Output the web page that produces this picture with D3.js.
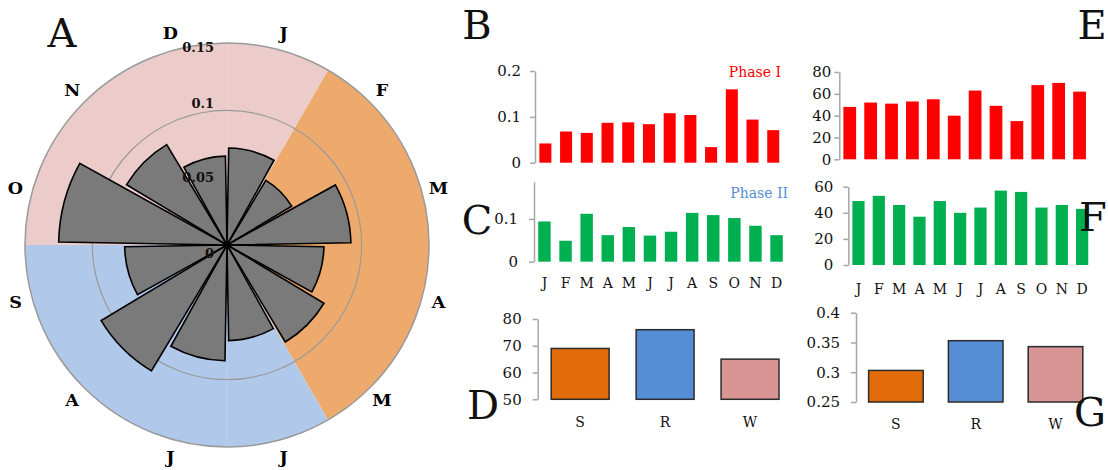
<!DOCTYPE html>
<html>
<head>
<meta charset="utf-8">
<script src="https://cdn.jsdelivr.net/npm/d3@7"></script>
<style>
  html, body { margin: 0; padding: 0; background: #fff; }
  svg { display: block; }
  text { font-family: "DejaVu Serif", "Liberation Serif", serif; }
</style>
</head>
<body>
<svg id="chart" width="1108" height="470"></svg>
<script>
// ---------- DATA ----------
const months = ["J", "F", "M", "A", "M", "J", "J", "A", "S", "O", "N", "D"];
const polarValues = [0.072, 0.056, 0.092, 0.072, 0.084, 0.071, 0.086, 0.109, 0.076, 0.125, 0.087, 0.066];
const polarTicks = [0, 0.05, 0.1, 0.15];
const seasonNames = ["S", "R", "W"];
const seasonStartMonth = [1, 5, 9];   // Feb, Jun, Oct
const seasonColors = ["#eeaa6c", "#b0c9ea", "#ecccca"];

const phase1Ratio = [0.042, 0.068, 0.065, 0.087, 0.088, 0.084, 0.108, 0.104, 0.034, 0.160, 0.094, 0.071];
const phase2Ratio = [0.094, 0.049, 0.112, 0.062, 0.081, 0.061, 0.070, 0.114, 0.109, 0.102, 0.084, 0.062];
const phase1Count = [48, 52, 51, 53, 55, 40, 63, 49, 35, 68, 70, 62];
const phase2Count = [49, 53, 46, 37, 49, 40, 44, 57, 56, 44, 46, 43];
const seasonD = [69, 76, 65];
const seasonG = [0.303, 0.353, 0.343];

const ticksB = [0, 0.1, 0.2];
const ticksC = [0, 0.1];
const ticksD = [50, 60, 70, 80];
const ticksE = [0, 20, 40, 60, 80];
const ticksF = [0, 20, 40, 60];
const ticksG = [0.25, 0.3, 0.35, 0.4];

const svg = d3.select("#chart");
svg.append("rect").attr("width", 1108).attr("height", 470).attr("fill", "#fff");

// ---------- PANEL A: polar ----------
const cx = 227, cy = 245, R = 202;
const rScale = d3.scaleLinear().domain([0, 0.15]).range([0, R]);
const deg = Math.PI / 180;
const gA = svg.append("g").attr("transform", `translate(${cx},${cy})`);

// season background wedges
seasonNames.forEach((s, i) => {
  const a0 = seasonStartMonth[i] * 30 * deg;
  gA.append("path")
    .attr("d", d3.arc()({innerRadius: 0, outerRadius: rScale(0.15), startAngle: a0, endAngle: a0 + 120 * deg}))
    .attr("fill", seasonColors[i]);
});

// faint radial axis
gA.append("line").attr("x1", 0).attr("y1", -R).attr("x2", 0).attr("y2", R)
  .attr("stroke", "#ffffff").attr("stroke-opacity", 0.15).attr("stroke-width", 1);

// rings
polarTicks.filter(t => t > 0).forEach(t => {
  gA.append("circle").attr("r", rScale(t)).attr("fill", "none")
    .attr("stroke", "#9a9a9a").attr("stroke-width", t === 0.15 ? 1.5 : 1.2);
});

// bars
const barArc = d3.arc().innerRadius(0).padAngle(0);
gA.selectAll("path.bar").data(polarValues).join("path")
  .attr("class", "bar")
  .attr("d", (v, i) => barArc({outerRadius: rScale(v), startAngle: (i * 30 + 1) * deg, endAngle: (i * 30 + 29) * deg}))
  .attr("fill", "#7a7a7a")
  .attr("stroke", "#000")
  .attr("stroke-width", 1.6)
  .attr("stroke-linejoin", "miter");

// radial tick labels
const tickOffsets = [8, 0, -7, 4];
polarTicks.forEach((t, i) => {
  gA.append("text")
    .attr("x", -13)
    .attr("y", -rScale(t) + tickOffsets[i])
    .attr("text-anchor", "end")
    .attr("dominant-baseline", "central")
    .attr("font-size", 13)
    .attr("font-weight", "bold")
    .attr("fill", "#111")
    .text(t);
});

// month labels
months.forEach((m, i) => {
  const a = (15 + 30 * i) * deg;
  const rr = 219;
  gA.append("text")
    .attr("x", rr * Math.sin(a))
    .attr("y", -rr * Math.cos(a))
    .attr("text-anchor", "middle")
    .attr("dominant-baseline", "central")
    .attr("font-size", 17.5)
    .attr("font-weight", "bold")
    .attr("fill", "#000")
    .text(m);
});

// ---------- bar chart helper ----------
function barPanel(o) {
  const g = svg.append("g");
  const x = d3.scaleBand().domain(o.categories.map((c, i) => i))
    .range([o.x0, o.x1]).paddingInner(o.pi).paddingOuter(o.po);
  const y = d3.scaleLinear().domain(o.domain).range([o.y0, o.y1]);

  g.selectAll("rect").data(o.values).join("rect")
    .attr("x", (d, i) => x(i))
    .attr("width", x.bandwidth())
    .attr("y", d => y(d))
    .attr("height", d => y(o.domain[0]) - y(d))
    .attr("fill", (d, i) => Array.isArray(o.color) ? o.color[i] : o.color)
    .attr("stroke", o.stroke || "none")
    .attr("stroke-width", o.stroke ? 1.5 : 0);

  const ax = g.append("g").attr("transform", `translate(${o.x0},0)`)
    .call(d3.axisLeft(y).tickValues(o.ticks).tickSize(5).tickSizeOuter(0)
      .tickPadding(o.tp).tickFormat(o.fmt || (d => d)));
  ax.select(".domain").attr("stroke", "#a6a6a6").attr("stroke-width", 1.5);
  ax.selectAll(".tick line").attr("stroke", "#a6a6a6").attr("stroke-width", 1.5);
  ax.selectAll(".tick text").attr("font-size", 15).attr("fill", "#111")
    .attr("font-family", "DejaVu Serif, serif");

  if (o.xLabelY) {
    g.selectAll("text.xl").data(o.categories).join("text")
      .attr("class", "xl")
      .attr("x", (d, i) => x(i) + x.bandwidth() / 2)
      .attr("y", o.xLabelY)
      .attr("text-anchor", "middle")
      .attr("dominant-baseline", "central")
      .attr("font-size", 14)
      .attr("fill", "#111")
      .text(d => d);
  }
  return g;
}

// B
barPanel({categories: months, values: phase1Ratio, domain: [0, 0.2], ticks: ticksB,
  x0: 535, x1: 783.6, y0: 162.7, y1: 71, pi: 0.42, po: 0.21, color: "#ff0000", tp: 9});
// C
barPanel({categories: months, values: phase2Ratio, domain: [0, 0.187], ticks: ticksC,
  x0: 534, x1: 787, y0: 261.7, y1: 181.7, pi: 0.41, po: 0.2, color: "#00b050", tp: 11, xLabelY: 283});
// D
barPanel({categories: seasonNames, values: seasonD, domain: [50, 80], ticks: ticksD,
  x0: 537.7, x1: 792.5, y0: 399.3, y1: 319, pi: 0.318, po: 0.159,
  color: ["#e36c0a", "#558ed5", "#d99594"], stroke: "#2b2b2b", tp: 11, xLabelY: 422});
// E
barPanel({categories: months, values: phase1Count, domain: [0, 80], ticks: ticksE,
  x0: 839.3, x1: 1090, y0: 159.3, y1: 72, pi: 0.39, po: 0.195, color: "#ff0000", tp: 3});
// F
barPanel({categories: months, values: phase2Count, domain: [0, 60], ticks: ticksF,
  x0: 848.3, x1: 1092.3, y0: 265, y1: 186.7, pi: 0.4, po: 0.2, color: "#00b050", tp: 10, xLabelY: 288.5});
// G
barPanel({categories: seasonNames, values: seasonG, domain: [0.25, 0.4], ticks: ticksG,
  x0: 856, x1: 1095.4, y0: 402, y1: 312.7, pi: 0.316, po: 0.158,
  color: ["#e36c0a", "#558ed5", "#d99594"], stroke: "#2b2b2b", tp: 11, xLabelY: 423.5});

// phase labels
svg.append("text").attr("x", 781).attr("y", 72).attr("text-anchor", "end")
  .attr("dominant-baseline", "central").attr("font-size", 14).attr("fill", "#ff0000").text("Phase I");
svg.append("text").attr("x", 788).attr("y", 193).attr("text-anchor", "end")
  .attr("dominant-baseline", "central").attr("font-size", 14).attr("fill", "#558ed5").text("Phase II");

// panel letters
const letters = [["A", 62, 33], ["B", 477, 25], ["C", 477, 220], ["D", 483, 405], ["E", 1092, 25], ["F", 1093, 217], ["G", 1090, 412]];
letters.forEach(([t, x, y]) => {
  svg.append("text").attr("x", x).attr("y", y).attr("text-anchor", "middle")
    .attr("dominant-baseline", "central")
    .attr("font-family", "Liberation Serif, serif").attr("font-size", 40).attr("fill", "#111").text(t);
});
</script>
</body>
</html>
